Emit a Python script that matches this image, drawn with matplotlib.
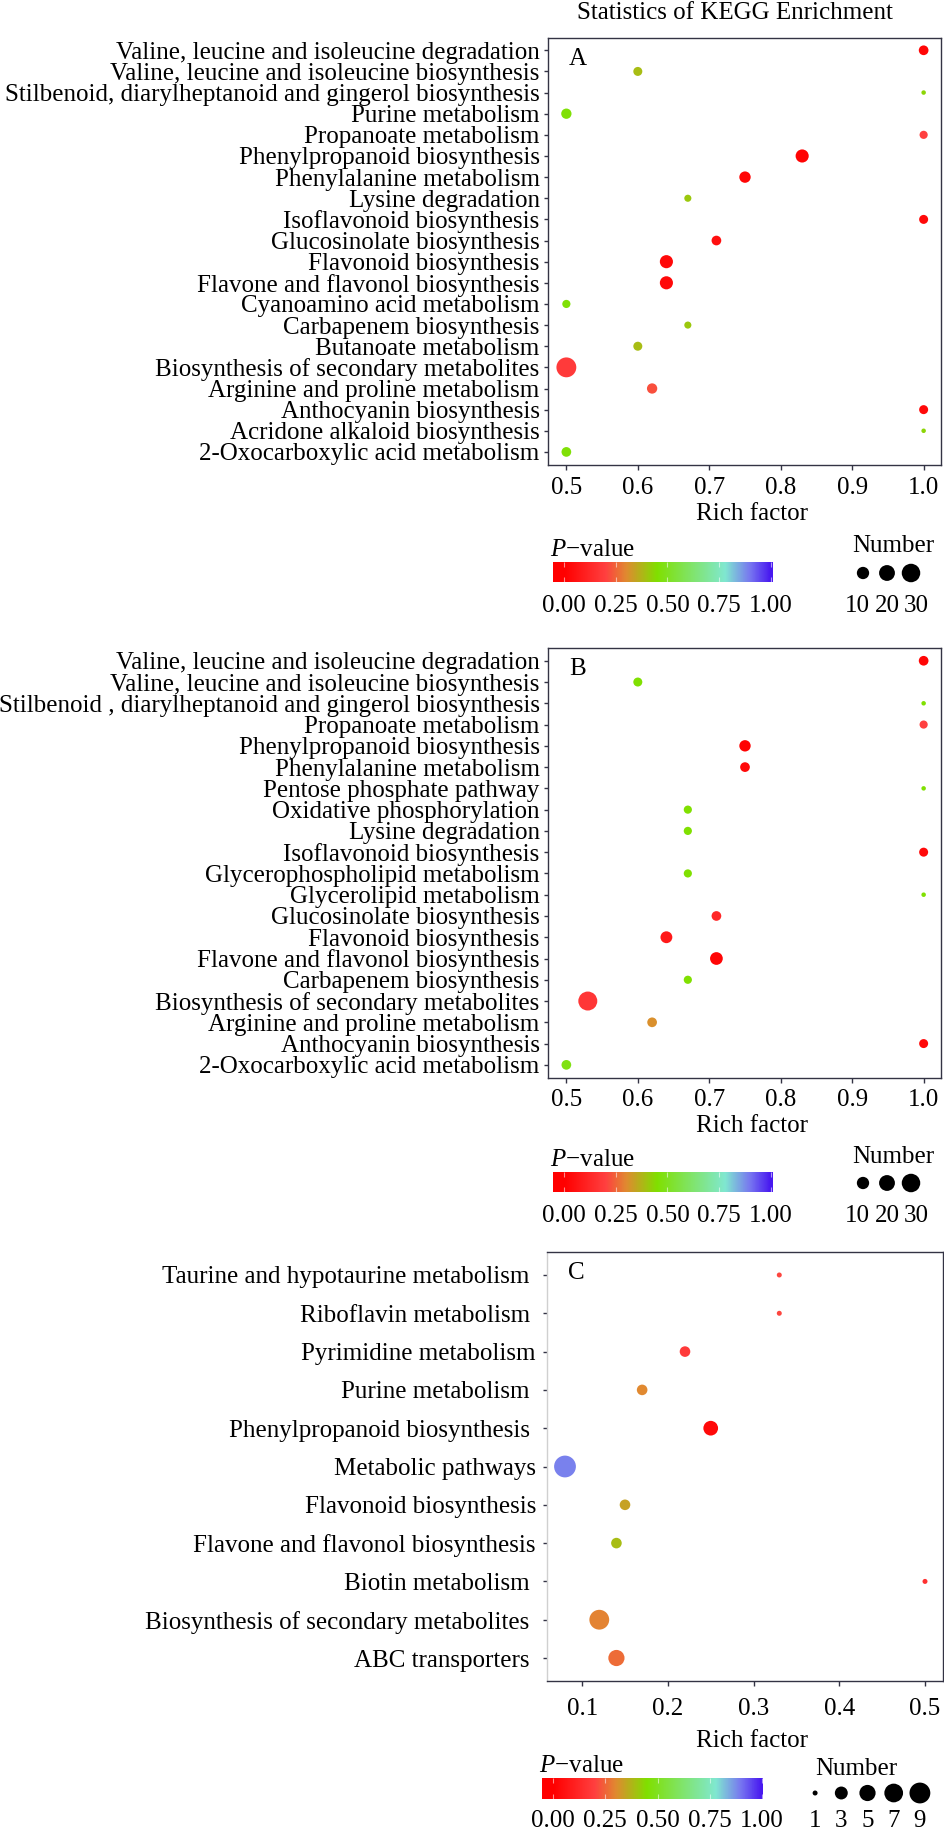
import numpy as np
import matplotlib
matplotlib.use('Agg')
import matplotlib.pyplot as plt
from matplotlib.colors import LinearSegmentedColormap

plt.rcParams['font.family'] = ['Liberation Serif', 'DejaVu Serif']
plt.rcParams['font.size'] = 18
plt.rcParams['mathtext.fontset'] = 'custom'
plt.rcParams['mathtext.it'] = 'Liberation Serif:italic'
plt.rcParams['mathtext.rm'] = 'Liberation Serif'

# ---- data (top row first) ----
names_a = ['Valine, leucine and isoleucine degradation',
           'Valine, leucine and isoleucine biosynthesis',
           'Stilbenoid, diarylheptanoid and gingerol biosynthesis',
           'Purine metabolism', 'Propanoate metabolism',
           'Phenylpropanoid biosynthesis', 'Phenylalanine metabolism',
           'Lysine degradation', 'Isoflavonoid biosynthesis',
           'Glucosinolate biosynthesis', 'Flavonoid biosynthesis',
           'Flavone and flavonol biosynthesis', 'Cyanoamino acid metabolism',
           'Carbapenem biosynthesis', 'Butanoate metabolism',
           'Biosynthesis of secondary metabolites',
           'Arginine and proline metabolism', 'Anthocyanin biosynthesis',
           'Acridone alkaloid biosynthesis', '2-Oxocarboxylic acid metabolism']
rich_a = [1.0, 0.6, 1.0, 0.5, 1.0, 0.83, 0.75, 0.67, 1.0, 0.71,
          0.64, 0.64, 0.5, 0.67, 0.6, 0.5, 0.62, 1.0, 1.0, 0.5]
count_a = [5, 4, 1, 6, 3, 12, 8, 2, 4, 5, 12, 12, 3, 2, 4, 36, 6, 4, 1, 5]
pval_a = [0.02, 0.39, 0.43, 0.46, 0.2, 0.01, 0.02, 0.41, 0.03, 0.05,
          0.03, 0.03, 0.46, 0.41, 0.39, 0.18, 0.22, 0.03, 0.43, 0.46]

names_b = ['Valine, leucine and isoleucine degradation',
           'Valine, leucine and isoleucine biosynthesis',
           'Stilbenoid , diarylheptanoid and gingerol biosynthesis',
           'Propanoate metabolism', 'Phenylpropanoid biosynthesis',
           'Phenylalanine metabolism', 'Pentose phosphate pathway',
           'Oxidative phosphorylation', 'Lysine degradation',
           'Isoflavonoid biosynthesis', 'Glycerophospholipid metabolism',
           'Glycerolipid metabolism', 'Glucosinolate biosynthesis',
           'Flavonoid biosynthesis', 'Flavone and flavonol biosynthesis',
           'Carbapenem biosynthesis', 'Biosynthesis of secondary metabolites',
           'Arginine and proline metabolism', 'Anthocyanin biosynthesis',
           '2-Oxocarboxylic acid metabolism']
rich_b = [1.0, 0.6, 1.0, 1.0, 0.75, 0.75, 1.0, 0.67, 0.67, 1.0,
          0.67, 1.0, 0.71, 0.64, 0.71, 0.67, 0.53, 0.62, 1.0, 0.5]
count_b = [5, 4, 1, 3, 8, 5, 1, 3, 3, 4, 3, 1, 5, 9, 11, 3, 32, 5, 4, 5]
pval_b = [0.02, 0.45, 0.45, 0.2, 0.01, 0.03, 0.45, 0.45, 0.45, 0.03,
          0.45, 0.45, 0.12, 0.08, 0.02, 0.45, 0.17, 0.31, 0.03, 0.48]

names_c = ['Taurine and hypotaurine metabolism ', 'Riboflavin metabolism ',
           'Pyrimidine metabolism', 'Purine metabolism ',
           'Phenylpropanoid biosynthesis ', 'Metabolic pathways',
           'Flavonoid biosynthesis', 'Flavone and flavonol biosynthesis',
           'Biotin metabolism ', 'Biosynthesis of secondary metabolites ',
           'ABC transporters ']
rich_c = [0.33, 0.33, 0.22, 0.17, 0.25, 0.08, 0.15, 0.14, 0.5, 0.12, 0.14]
count_c = [1, 1, 2, 2, 4, 10, 2, 2, 1, 8, 5]
pval_c = [0.21, 0.21, 0.18, 0.3, 0.03, 0.89, 0.34, 0.39, 0.15, 0.29, 0.26]

pticks = [0.0, 0.25, 0.5, 0.75, 1.0]
nbreaks_ab = [10, 20, 30]
nbreaks_c = [1, 3, 5, 7, 9]

W, H = 945, 1835
SPINE = '#333344'

pcmap = LinearSegmentedColormap.from_list('pv', [
    (0.0, '#ff0000'), (0.2, '#ff4040'), (0.3, '#e08a30'), (0.45, '#80e000'),
    (0.78, '#80e8d0'), (0.9, '#7878f0'), (1.0, '#4818f0')])


def rect(l, t, r, b):
    return [l / W, 1 - b / H, (r - l) / W, (b - t) / H]


def ftext(x, y, s, **kw):
    fig.text(x / W, 1 - y / H, s, **kw)


# dot diameter (px) -> scatter area (pt^2)
def size_ab(n):
    return (0.72 * (4.5 + 2.6 * np.sqrt(np.asarray(n, float) - 1))) ** 2


def size_c(n):
    return (0.72 * (5 + 5.6 * np.sqrt(np.asarray(n, float) - 1))) ** 2


fig = plt.figure(figsize=(W / 100, H / 100), dpi=100)


def dot_panel(rc, names, rich, count, pval, size_fn, xticks, letter,
              ypad=3.2, xpad=6, left_spine=SPINE):
    ax = fig.add_axes(rc)
    y = np.arange(len(names))[::-1]
    ax.scatter(rich, y, s=size_fn(count), c=pval, cmap=pcmap, vmin=0, vmax=1,
               linewidths=0, zorder=3)
    lo, hi = min(rich), max(rich)
    ex = 0.05 * (hi - lo)
    ax.set_xlim(lo - ex, hi + ex)
    ax.set_ylim(-0.6, len(names) - 0.4)
    ax.set_yticks(y)
    ax.set_yticklabels(names)
    ax.set_xticks(xticks)
    ax.set_xticklabels(['%.1f' % v for v in xticks])
    ax.tick_params(axis='y', length=4.5 * 0.72, width=1, color=SPINE, pad=ypad)
    ax.tick_params(axis='x', length=4.5 * 0.72, width=1, color=SPINE, pad=xpad)
    for sp in ax.spines.values():
        sp.set_color(SPINE)
        sp.set_linewidth(1.0)
    ax.spines['left'].set_color(left_spine)
    ax.text(0.075, 0.95, letter, transform=ax.transAxes, ha='center', va='center')
    return ax


def pvalue_bar(l, t, r, b, tick_lo, tick_hi, pad):
    ax = fig.add_axes(rect(l, t, r, b))
    # map pixel edges to p-value units
    unit = (tick_hi - tick_lo)
    x0 = (l - tick_lo) / unit
    x1 = (r - tick_lo) / unit
    xs = np.linspace(x0, x1, 400)
    ax.imshow(np.clip(xs, 0, 1)[None, :], cmap=pcmap, vmin=0, vmax=1,
              aspect='auto', extent=(x0, x1, 0, 1))
    ax.set_xlim(x0, x1)
    ax.set_ylim(0, 1)
    ax.set_yticks([])
    ax.set_xticks(pticks)
    ax.set_xticklabels(['%.2f' % v for v in pticks])
    ax.tick_params(axis='x', direction='in', color=(1, 1, 1, 0.55), length=3.5,
                   width=0.8, top=True, pad=pad)
    for sp in ax.spines.values():
        sp.set_visible(False)
    ftext(l - 3, t - 12, r'$P$' + '\u2212value', ha='left', va='center')


def number_legend(l, r, yc, breaks, size_fn, pad, spread=1.0):
    ax = fig.add_axes(rect(l, yc - 12, r, yc + 12))
    xs = np.arange(len(breaks))
    mid = (len(breaks) - 1) / 2
    ax.scatter(xs, np.zeros(len(breaks)), s=size_fn(breaks), color='black',
               linewidths=0)
    ax.set_xlim(-0.5, len(breaks) - 0.5)
    ax.set_ylim(-1, 1)
    ax.set_yticks([])
    # labels are wider than the keys, so they sit a little further apart
    ax.set_xticks(mid + (xs - mid) * spread)
    ax.set_xticklabels([str(v) for v in breaks])
    ax.tick_params(axis='x', length=0, pad=pad)
    for sp in ax.spines.values():
        sp.set_visible(False)
    return ax


ftext(735, 13, 'Statistics of KEGG Enrichment', ha='center', va='center')

# panel A
dot_panel(rect(548.5, 37.6, 941.5, 464.6), names_a, rich_a, count_a, pval_a,
          size_ab, [0.5, 0.6, 0.7, 0.8, 0.9, 1.0], 'A', xpad=6)
ftext(752, 514, 'Rich factor', ha='center', va='center')
pvalue_bar(553, 562, 773, 582, 564, 771, 9)
ftext(893, 546, 'Number', ha='center', va='center')
number_legend(851, 923, 573, nbreaks_ab, size_ab, 7, spread=1.22)

# panel B
dot_panel(rect(548.5, 648, 941.5, 1077.6), names_b, rich_b, count_b, pval_b,
          size_ab, [0.5, 0.6, 0.7, 0.8, 0.9, 1.0], 'B', xpad=5)
ftext(752, 1126, 'Rich factor', ha='center', va='center')
pvalue_bar(553, 1172, 773, 1192, 564, 771, 9)
ftext(893, 1157, 'Number', ha='center', va='center')
number_legend(851, 923, 1183, nbreaks_ab, size_ab, 7, spread=1.22)

# panel C
dot_panel(rect(547, 1252, 943, 1681), names_c, rich_c, count_c, pval_c,
          size_c, [0.1, 0.2, 0.3, 0.4, 0.5], 'C', ypad=4.7, xpad=9,
          left_spine='#d0d0d0')
ftext(752, 1741, 'Rich factor', ha='center', va='center')
pvalue_bar(542, 1778, 763, 1799, 553, 762, 8)
ftext(856, 1769, 'Number', ha='center', va='center')
number_legend(802, 933, 1793, nbreaks_c, size_c, 3.5)

fig.savefig('out.png', dpi=100)
